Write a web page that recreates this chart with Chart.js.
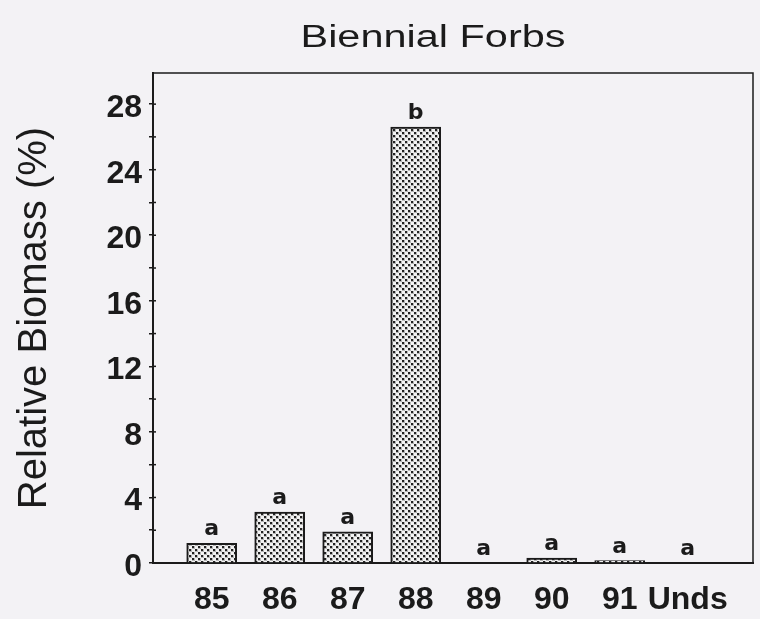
<!DOCTYPE html>
<html>
<head>
<meta charset="utf-8">
<title>Biennial Forbs</title>
<script src="https://cdn.jsdelivr.net/npm/chart.js@4.4.1/dist/chart.umd.min.js"></script>
<style>
  body { margin: 0; background: #f3f2f5; }
  canvas { display: block; }
</style>
</head>
<body>
<canvas id="biomassChart" width="760" height="619"></canvas>
<script>
// values
const categories = ['85', '86', '87', '88', '89', '90', '91', 'Unds'];
const biomass = [1.2, 3.1, 1.9, 26.6, 0, 0.3, 0.15, 0];
const groupLetters = ['a', 'a', 'a', 'b', 'a', 'a', 'a', 'a'];
const yMax = 29.9;
const yStep = 2;      // minor ticks
const yLabelEvery = 4; // labelled ticks

const ink = '#1b1b1b';

// stippled fill like the printed bars
function dotPattern() {
    const c = document.createElement('canvas');
    c.width = 6; c.height = 6;
    const g = c.getContext('2d');
    g.fillStyle = '#f2f2f2';
    g.fillRect(0, 0, 6, 6);
    g.fillStyle = '#b4b4b4';
    g.fillRect(0, 0, 3, 3);
    g.fillRect(3, 3, 3, 3);
    g.fillStyle = '#222222';
    g.fillRect(0, 0, 2, 2);
    g.fillRect(3, 3, 2, 2);
    return g.createPattern(c, 'repeat');
}

const decorations = {
    id: 'decorations',
    beforeDraw(chart) {
        const ctx = chart.ctx;
        ctx.save();
        ctx.fillStyle = '#f3f2f5';
        ctx.fillRect(0, 0, chart.width, chart.height);
        ctx.restore();
    },
    afterDatasetsDraw(chart) {
        // significance letters above each bar
        const ctx = chart.ctx;
        const bars = chart.getDatasetMeta(0).data;
        ctx.save();
        ctx.fillStyle = ink;
        ctx.font = 'bold 22px "DejaVu Sans"';
        ctx.textAlign = 'center';
        ctx.textBaseline = 'alphabetic';
        bars.forEach((bar, i) => {
            ctx.fillText(groupLetters[i], bar.x, bar.y - 8);
        });
        ctx.restore();
    },
    afterDraw(chart) {
        const ctx = chart.ctx;
        const a = chart.chartArea;
        const y = chart.scales.y;
        ctx.save();
        ctx.strokeStyle = ink;

        // top and right frame
        ctx.lineWidth = 1.5;
        ctx.beginPath();
        ctx.moveTo(a.left - 1, a.top);
        ctx.lineTo(a.right, a.top);
        ctx.lineTo(a.right, a.bottom);
        ctx.stroke();

        // inner half of y tick marks
        y.ticks.forEach(t => {
            const py = y.getPixelForValue(t.value);
            ctx.beginPath();
            ctx.moveTo(a.left, py);
            ctx.lineTo(a.left + 3, py);
            ctx.stroke();
        });

        // chart title, wide face
        ctx.fillStyle = ink;
        ctx.font = '31px "Liberation Sans"';
        ctx.textAlign = 'center';
        ctx.textBaseline = 'alphabetic';
        const title = 'Biennial Forbs';
        const sx = 265 / ctx.measureText(title).width;
        ctx.save();
        ctx.translate((a.left + a.right) / 2 - 20, 47);
        ctx.scale(sx, 1);
        ctx.fillText(title, 0, 0);
        ctx.restore();

        // y axis title
        ctx.font = '40px "Liberation Sans"';
        ctx.save();
        ctx.translate(46, (a.top + a.bottom) / 2);
        ctx.rotate(-Math.PI / 2);
        ctx.fillText('Relative Biomass (%)', 0, 0);
        ctx.restore();

        ctx.restore();
    }
};

new Chart(document.getElementById('biomassChart'), {
    type: 'bar',
    data: {
        datasets: [{
            data: biomass.map((v, i) => ({ x: i, y: v })),
            backgroundColor: dotPattern(),
            borderColor: ink,
            borderWidth: 2,
            borderSkipped: 'bottom',
            barThickness: 50
        }]
    },
    options: {
        responsive: false,
        animation: false,
        layout: { padding: { top: 73, right: 7, left: 0, bottom: 0 } },
        plugins: {
            legend: { display: false },
            tooltip: { enabled: false }
        },
        scales: {
            x: {
                type: 'linear',
                offset: false,
                min: -0.863,
                max: 7.96,
                afterBuildTicks: axis => {
                    axis.ticks = categories.map((c, i) => ({ value: i }));
                },
                afterFit: scale => { scale.height = 56; },
                grid: { display: false, drawTicks: false, offset: false },
                border: { display: true, color: ink, width: 2 },
                ticks: {
                    autoSkip: false,
                    maxRotation: 0,
                    padding: 18,
                    color: ink,
                    font: { family: '"Liberation Sans"', size: 32, weight: 'bold' },
                    callback: value => categories[value]
                }
            },
            y: {
                min: 0,
                max: yMax,
                afterFit: scale => { scale.width = 153; },
                grid: { drawOnChartArea: false, tickLength: 4, color: ink, lineWidth: 1.5 },
                border: { display: true, color: ink, width: 2 },
                ticks: {
                    stepSize: yStep,
                    includeBounds: false,
                    autoSkip: false,
                    padding: 7,
                    labelOffset: 4,
                    color: ink,
                    font: { family: '"Liberation Sans"', size: 32, weight: 'bold' },
                    callback: value => (value % yLabelEvery === 0 ? value : '')
                }
            }
        }
    },
    plugins: [decorations]
});
</script>
</body>
</html>
